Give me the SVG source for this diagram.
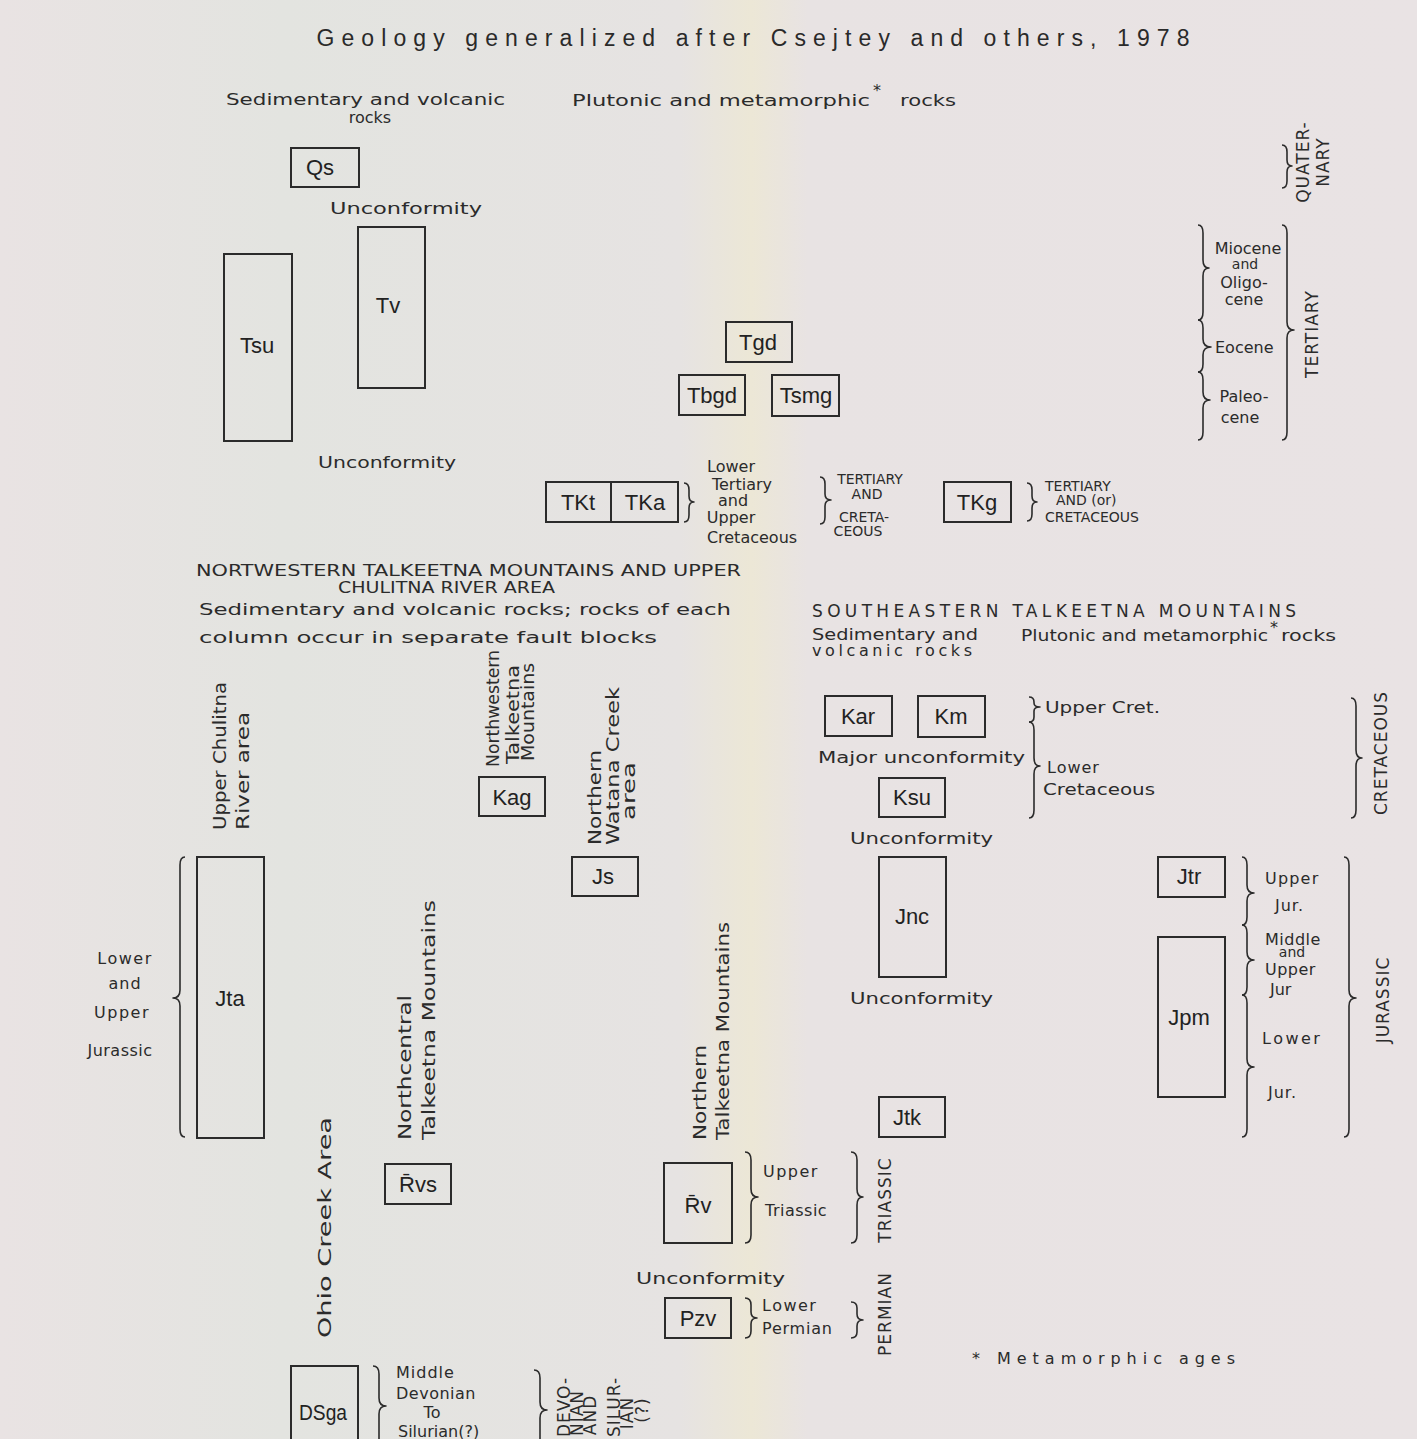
<svg xmlns="http://www.w3.org/2000/svg" width="1417" height="1439" viewBox="0 0 1417 1439">
<defs>
<linearGradient id="bg" x1="0" y1="0" x2="1" y2="0">
<stop offset="0" stop-color="#e9e3e3"/>
<stop offset="0.2" stop-color="#e3e4e0"/>
<stop offset="0.48" stop-color="#e6e3e2"/>
<stop offset="0.53" stop-color="#ece7d6"/>
<stop offset="0.57" stop-color="#e8e3e3"/>
<stop offset="1" stop-color="#e9e3e4"/>
</linearGradient>
</defs>
<style>
.box{fill:none;stroke:#2b2b2b;stroke-width:2}
.br{fill:none;stroke:#2b2b2b;stroke-width:1.6;stroke-linejoin:round}
.lb{font-family:'Liberation Sans',Arial,sans-serif;font-size:22px;fill:#222;text-anchor:middle}
.t{font-family:'DejaVu Sans',sans-serif;font-size:16px;fill:#2b2b2b}
.s{font-family:'DejaVu Sans',sans-serif;font-size:14px;fill:#2b2b2b}
.m{text-anchor:middle}
.cap{font-family:'DejaVu Sans',sans-serif;font-size:17px;fill:#2b2b2b;letter-spacing:1px}
.rot{font-family:'DejaVu Sans',sans-serif;font-size:17px;fill:#2b2b2b;text-anchor:middle;letter-spacing:1px}
.rs{font-family:'DejaVu Sans',sans-serif;font-size:18px;fill:#2b2b2b;text-anchor:start}
</style>
<rect x="0" y="0" width="1417" height="1439" fill="url(#bg)"/>

<text x="753" y="46" font-family="'Liberation Sans',Arial,sans-serif" font-size="23" fill="#2a2a2a" text-anchor="middle" textLength="873" lengthAdjust="spacing">Geology generalized after Csejtey and others, 1978</text>

<!-- top headers -->
<g id="hdr-top">
<text class="t" x="226" y="105" textLength="279" lengthAdjust="spacingAndGlyphs">Sedimentary and volcanic</text>
<text class="t m" x="370" y="123" font-size="15">rocks</text>
<text class="t" x="572" y="106" textLength="298" lengthAdjust="spacingAndGlyphs">Plutonic and metamorphic</text>
<text class="t" x="873" y="96" font-size="20">*</text>
<text class="t" x="900" y="106" font-size="18" textLength="56" lengthAdjust="spacingAndGlyphs">rocks</text>
</g>

<g id="Qs"><rect class="box" x="291" y="148" width="68" height="39"/><text class="lb" x="320" y="175">Qs</text></g>
<text class="t" x="330" y="214" font-size="18" textLength="152" lengthAdjust="spacingAndGlyphs">Unconformity</text>
<g id="Tsu"><rect class="box" x="224" y="254" width="68" height="187"/><text class="lb" x="257" y="353">Tsu</text></g>
<g id="Tv"><rect class="box" x="358" y="227" width="67" height="161"/><text class="lb" x="388" y="313">Tv</text></g>
<text class="t" x="318" y="468" font-size="18" textLength="138" lengthAdjust="spacingAndGlyphs">Unconformity</text>

<g id="Tgd"><rect class="box" x="726" y="322" width="66" height="40"/><text class="lb" x="758" y="350">Tgd</text></g>
<g id="Tbgd"><rect class="box" x="679" y="375" width="66" height="40"/><text class="lb" x="712" y="403">Tbgd</text></g>
<g id="Tsmg"><rect class="box" x="772" y="375" width="67" height="41"/><text class="lb" x="806" y="403">Tsmg</text></g>

<g id="TKt-TKa"><rect class="box" x="546" y="482" width="132" height="40"/><line class="box" x1="611" y1="482" x2="611" y2="522"/><text class="lb" x="578" y="510">TKt</text><text class="lb" x="645" y="510">TKa</text></g>
<g id="lbl-TK">
<text class="t m" x="731" y="472" font-size="15">Lower</text>
<text class="t m" x="742" y="490" font-size="15">Tertiary</text>
<text class="t m" x="733" y="506" font-size="13">and</text>
<text class="t m" x="731" y="523" font-size="15">Upper</text>
<text class="t m" x="752" y="543" font-size="15">Cretaceous</text>
<text class="s m" x="870" y="484">TERTIARY</text>
<text class="s m" x="867" y="499">AND</text>
<text class="s m" x="864" y="522" font-size="15">CRETA-</text>
<text class="s m" x="858" y="536">CEOUS</text>
</g>
<g id="TKg"><rect class="box" x="944" y="482" width="67" height="40"/><text class="lb" x="977" y="510">TKg</text></g>
<g id="lbl-TKg">
<text class="s" x="1045" y="491" font-size="15">TERTIARY</text>
<text class="s" x="1056" y="505" font-size="13">AND (or)</text>
<text class="s" x="1045" y="522" font-size="16">CRETACEOUS</text>
</g>

<!-- right time scale top -->
<g id="scale-top">
<text class="rot" transform="translate(1309,162) rotate(-90)" font-size="15">QUATER-</text>
<text class="rot" transform="translate(1329,162) rotate(-90)" font-size="15">NARY</text>
<text class="t m" x="1248" y="254">Miocene</text>
<text class="s m" x="1245" y="269" font-size="13">and</text>
<text class="t m" x="1244" y="288">Oligo-</text>
<text class="t m" x="1244" y="305">cene</text>
<text class="t" x="1215" y="353">Eocene</text>
<text class="t m" x="1244" y="402">Paleo-</text>
<text class="t m" x="1240" y="423">cene</text>
<text class="rot" transform="translate(1318,334) rotate(-90)" font-size="20" letter-spacing="3">TERTIARY</text>
</g>

<!-- NW region -->
<g id="hdr-nw">
<text class="t" x="196" y="576" textLength="545" lengthAdjust="spacingAndGlyphs">NORTWESTERN  TALKEETNA  MOUNTAINS AND UPPER</text>
<text class="t" x="338" y="593" textLength="217" lengthAdjust="spacingAndGlyphs">CHULITNA RIVER AREA</text>
<text class="t" x="199" y="615" font-size="18" textLength="532" lengthAdjust="spacingAndGlyphs">Sedimentary and volcanic rocks; rocks of each</text>
<text class="t" x="199" y="643" font-size="18" textLength="458" lengthAdjust="spacingAndGlyphs">column occur in separate fault blocks</text>
</g>
<text class="rs" transform="translate(226,830) rotate(-90)" font-size="19" textLength="148" lengthAdjust="spacingAndGlyphs">Upper Chulitna</text>
<text class="rs" transform="translate(249,830) rotate(-90)" font-size="19" textLength="118" lengthAdjust="spacingAndGlyphs">River area</text>
<text class="rs" transform="translate(499,767) rotate(-90)" font-size="15" textLength="117" lengthAdjust="spacingAndGlyphs">Northwestern</text>
<text class="rs" transform="translate(519,764) rotate(-90)" font-size="15" textLength="99" lengthAdjust="spacingAndGlyphs">Talkeetna</text>
<text class="rs" transform="translate(534,761) rotate(-90)" font-size="14" textLength="98" lengthAdjust="spacingAndGlyphs">Mountains</text>
<g id="Kag"><rect class="box" x="479" y="777" width="66" height="39"/><text class="lb" x="512" y="805">Kag</text></g>
<text class="rs" transform="translate(601,845) rotate(-90)" font-size="18" textLength="95" lengthAdjust="spacingAndGlyphs">Northern</text>
<text class="rs" transform="translate(619,845) rotate(-90)" font-size="18" textLength="158" lengthAdjust="spacingAndGlyphs">Watana Creek</text>
<text class="rs" transform="translate(635,820) rotate(-90)" font-size="18" textLength="58" lengthAdjust="spacingAndGlyphs">area</text>
<g id="Js"><rect class="box" x="572" y="857" width="66" height="39"/><text class="lb" x="603" y="884">Js</text></g>

<g id="Jta"><rect class="box" x="197" y="857" width="67" height="281"/><text class="lb" x="230" y="1006">Jta</text></g>
<g id="lbl-Jta">
<text class="t m" x="125" y="964" font-size="19" letter-spacing="1.5">Lower</text>
<text class="t m" x="125" y="989" font-size="19" letter-spacing="1">and</text>
<text class="t m" x="122" y="1018" font-size="19" letter-spacing="1.5">Upper</text>
<text class="t m" x="120" y="1056" font-size="18" letter-spacing="0.5">Jurassic</text>
</g>
<text class="rs" transform="translate(411,1140) rotate(-90)" font-size="19" textLength="145" lengthAdjust="spacingAndGlyphs">Northcentral</text>
<text class="rs" transform="translate(435,1140) rotate(-90)" font-size="19" textLength="240" lengthAdjust="spacingAndGlyphs">Talkeetna  Mountains</text>
<text class="rs" transform="translate(331,1338) rotate(-90)" font-size="22" textLength="221" lengthAdjust="spacingAndGlyphs">Ohio Creek Area</text>
<text class="rs" transform="translate(706,1140) rotate(-90)" font-size="19" textLength="95" lengthAdjust="spacingAndGlyphs">Northern</text>
<text class="rs" transform="translate(729,1140) rotate(-90)" font-size="19" textLength="218" lengthAdjust="spacingAndGlyphs">Talkeetna  Mountains</text>

<g id="Rvs"><rect class="box" x="385" y="1164" width="66" height="40"/><text class="lb" x="418" y="1192">R&#772;vs</text></g>
<g id="Rv"><rect class="box" x="664" y="1163" width="68" height="80"/><text class="lb" x="698" y="1213">R&#772;v</text></g>
<g id="lbl-Tr">
<text class="t" x="763" y="1177" font-size="19" letter-spacing="1.5">Upper</text>
<text class="t" x="765" y="1216" font-size="17" letter-spacing="0.5">Triassic</text>
<text class="rot" transform="translate(891,1200) rotate(-90)" font-size="16" letter-spacing="2">TRIASSIC</text>
</g>
<text class="t" x="636" y="1284" font-size="18" textLength="149" lengthAdjust="spacingAndGlyphs">Unconformity</text>
<g id="Pzv"><rect class="box" x="665" y="1298" width="66" height="40"/><text class="lb" x="698" y="1326">Pzv</text></g>
<g id="lbl-P">
<text class="t" x="762" y="1311" font-size="17" letter-spacing="1.5">Lower</text>
<text class="t" x="762" y="1334" font-size="17" letter-spacing="0.8">Permian</text>
<text class="rot" transform="translate(891,1314) rotate(-90)" font-size="16" letter-spacing="2">PERMIAN</text>
</g>
<text class="t" x="972" y="1364" font-size="19" textLength="263" lengthAdjust="spacing">*  Metamorphic ages</text>

<g id="DSga"><rect class="box" x="291" y="1366" width="67" height="80"/><text class="lb" x="323" y="1420" font-size="21" textLength="48" lengthAdjust="spacingAndGlyphs">DSga</text></g>
<g id="lbl-DS">
<text class="t" x="396" y="1378" font-size="17" letter-spacing="1">Middle</text>
<text class="t" x="396" y="1399" font-size="17" letter-spacing="0.5">Devonian</text>
<text class="t m" x="432" y="1418" font-size="14">To</text>
<text class="t" x="398" y="1437">Silurian(?)</text>
<text class="rot" transform="translate(570,1407) rotate(-90)" font-size="13" letter-spacing="0">DEVO-</text>
<text class="rot" transform="translate(583,1413) rotate(-90)" font-size="13" letter-spacing="0">NIAN</text>
<text class="rot" transform="translate(596,1415) rotate(-90)" font-size="13" letter-spacing="0">AND</text>
<text class="rot" transform="translate(620,1407) rotate(-90)" font-size="13" letter-spacing="0">SILUR-</text>
<text class="rot" transform="translate(633,1413) rotate(-90)" font-size="13" letter-spacing="0">IAN</text>
<text class="rot" transform="translate(648,1410) rotate(-90)" font-size="11" letter-spacing="0">(?)</text>
</g>

<!-- SE region -->
<g id="hdr-se">
<text class="cap" x="812" y="617" font-size="19" textLength="485" lengthAdjust="spacing">SOUTHEASTERN  TALKEETNA  MOUNTAINS</text>
<text class="t" x="812" y="640" font-size="15" textLength="166" lengthAdjust="spacingAndGlyphs">Sedimentary and</text>
<text class="t" x="812" y="656" font-size="15" textLength="160" lengthAdjust="spacing">volcanic  rocks</text>
<text class="t" x="1021" y="641" textLength="247" lengthAdjust="spacingAndGlyphs">Plutonic and metamorphic</text>
<text class="t" x="1270" y="633" font-size="20">*</text>
<text class="t" x="1281" y="641" font-size="17" textLength="55" lengthAdjust="spacingAndGlyphs">rocks</text>
</g>
<g id="Kar"><rect class="box" x="825" y="696" width="67" height="40"/><text class="lb" x="858" y="724">Kar</text></g>
<g id="Km"><rect class="box" x="918" y="696" width="67" height="41"/><text class="lb" x="951" y="724">Km</text></g>
<text class="t" x="1045" y="713" font-size="18" textLength="115" lengthAdjust="spacingAndGlyphs">Upper Cret.</text>
<text class="t" x="818" y="763" font-size="19" textLength="207" lengthAdjust="spacingAndGlyphs">Major unconformity</text>
<text class="t" x="1047" y="773" font-size="18" letter-spacing="1">Lower</text>
<text class="t" x="1043" y="795" font-size="18" textLength="112" lengthAdjust="spacingAndGlyphs">Cretaceous</text>
<g id="Ksu"><rect class="box" x="879" y="778" width="66" height="39"/><text class="lb" x="912" y="805">Ksu</text></g>
<text class="t" x="850" y="844" font-size="18" textLength="143" lengthAdjust="spacingAndGlyphs">Unconformity</text>
<g id="Jnc"><rect class="box" x="879" y="857" width="67" height="120"/><text class="lb" x="912" y="924">Jnc</text></g>
<text class="t" x="850" y="1004" font-size="18" textLength="143" lengthAdjust="spacingAndGlyphs">Unconformity</text>
<g id="Jtk"><rect class="box" x="879" y="1097" width="66" height="40"/><text class="lb" x="907" y="1125">Jtk</text></g>
<g id="Jtr"><rect class="box" x="1158" y="857" width="67" height="40"/><text class="lb" x="1189" y="884">Jtr</text></g>
<g id="Jpm"><rect class="box" x="1158" y="937" width="67" height="160"/><text class="lb" x="1189" y="1025">Jpm</text></g>
<g id="lbl-J">
<text class="t" x="1265" y="884" font-size="19" letter-spacing="1.2">Upper</text>
<text class="t" x="1275" y="911" font-size="18" letter-spacing="1">Jur.</text>
<text class="t" x="1265" y="945" font-size="16" letter-spacing="0.5">Middle</text>
<text class="s m" x="1292" y="957" font-size="9">and</text>
<text class="t" x="1265" y="975" font-size="16" letter-spacing="0.5">Upper</text>
<text class="t" x="1270" y="995">Jur</text>
<text class="t" x="1262" y="1044" font-size="19" letter-spacing="2.5">Lower</text>
<text class="t" x="1268" y="1098" font-size="18" letter-spacing="1">Jur.</text>
</g>
<text class="rot" transform="translate(1387,753) rotate(-90)" font-size="16" letter-spacing="2">CRETACEOUS</text>
<text class="rot" transform="translate(1389,1000) rotate(-90)" font-size="20" letter-spacing="3">JURASSIC</text>

<!-- braces -->
<g id="connectors">
<path class="br" d="M1282 145 Q1287 145 1287 152 L1287 160 Q1287 166 1292 166 Q1287 166 1287 172 L1287 181 Q1287 188 1282 188"/>
<path class="br" d="M1198 225 Q1203 225 1203 233 L1203 260 Q1203 268 1209 268 Q1203 268 1203 276 L1203 312 Q1203 320 1198 320"/>
<path class="br" d="M1198 320 Q1203 320 1203 328 L1203 339 Q1203 347 1211 347 Q1203 347 1203 355 L1203 364 Q1203 372 1198 372"/>
<path class="br" d="M1198 372 Q1203 372 1203 380 L1203 392 Q1203 400 1210 400 Q1203 400 1203 408 L1203 432 Q1203 440 1198 440"/>
<path class="br" d="M1282 225 Q1287 225 1287 233 L1287 322 Q1287 330 1294 330 Q1287 330 1287 338 L1287 432 Q1287 440 1282 440"/>
<path class="br" d="M684 483 Q689 483 689 490 L689 496 Q689 502 694 502 Q689 502 689 508 L689 515 Q689 522 684 522"/>
<path class="br" d="M820 477 Q825 477 825 484 L825 494 Q825 500 831 500 Q825 500 825 506 L825 517 Q825 524 820 524"/>
<path class="br" d="M1027 483 Q1032 483 1032 490 L1032 496 Q1032 502 1037 502 Q1032 502 1032 508 L1032 514 Q1032 521 1027 521"/>
<path class="br" d="M1029 697 Q1034 697 1034 702 L1034 703 Q1034 707 1040 707 Q1034 707 1034 711 L1034 717 Q1034 722 1029 722"/>
<path class="br" d="M1029 722 Q1034 722 1034 730 L1034 758 Q1034 766 1040 766 Q1034 766 1034 774 L1034 810 Q1034 818 1029 818"/>
<path class="br" d="M1351 698 Q1356 698 1356 706 L1356 750 Q1356 758 1362 758 Q1356 758 1356 766 L1356 810 Q1356 818 1351 818"/>
<path class="br" d="M1242 857 Q1247 857 1247 865 L1247 885 Q1247 893 1254 893 Q1247 893 1247 901 L1247 917 Q1247 925 1242 925"/>
<path class="br" d="M1242 925 Q1247 925 1247 933 L1247 952 Q1247 960 1254 960 Q1247 960 1247 968 L1247 987 Q1247 995 1242 995"/>
<path class="br" d="M1242 995 Q1247 995 1247 1003 L1247 1059 Q1247 1067 1254 1067 Q1247 1067 1247 1075 L1247 1129 Q1247 1137 1242 1137"/>
<path class="br" d="M1344 857 Q1349 857 1349 865 L1349 990 Q1349 998 1356 998 Q1349 998 1349 1006 L1349 1129 Q1349 1137 1344 1137"/>
<path class="br" d="M185 857 Q180 857 180 865 L180 990 Q180 998 173 998 Q180 998 180 1006 L180 1129 Q180 1137 185 1137"/>
<path class="br" d="M745 1152 Q751 1152 751 1160 L751 1189 Q751 1197 758 1197 Q751 1197 751 1205 L751 1235 Q751 1243 745 1243"/>
<path class="br" d="M851 1152 Q857 1152 857 1160 L857 1189 Q857 1197 863 1197 Q857 1197 857 1205 L857 1235 Q857 1243 851 1243"/>
<path class="br" d="M745 1298 Q751 1298 751 1305 L751 1312 Q751 1318 757 1318 Q751 1318 751 1324 L751 1331 Q751 1338 745 1338"/>
<path class="br" d="M851 1302 Q857 1302 857 1308 L857 1314 Q857 1320 863 1320 Q857 1320 857 1326 L857 1332 Q857 1338 851 1338"/>
<path class="br" d="M373 1366 Q379 1366 379 1374 L379 1398 Q379 1406 386 1406 Q379 1406 379 1414 L379 1445"/>
<path class="br" d="M534 1370 Q540 1370 540 1378 L540 1402 Q540 1410 547 1410 Q540 1410 540 1418 L540 1445"/>
</g>
</svg>
